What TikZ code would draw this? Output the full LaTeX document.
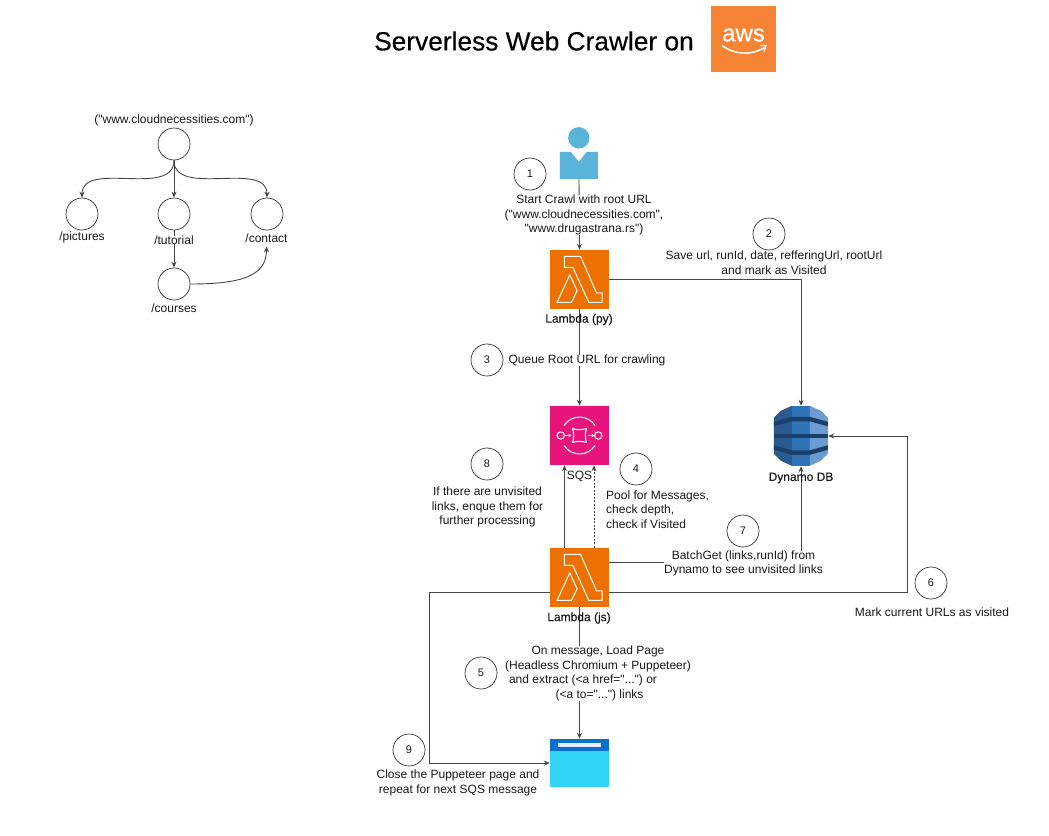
\documentclass[tikz,border=0pt]{standalone}
\usepackage{fontspec}
\setmainfont{Liberation Sans}[Ligatures=TeXOff]
\newfontfamily\darkfont[FakeBold=0.3]{Liberation Sans}
\usetikzlibrary{arrows.meta}
\definecolor{lambdaorange}{HTML}{ED7100}
\definecolor{sqspink}{HTML}{E7157B}
\definecolor{awsorange}{HTML}{F58534}
\definecolor{userblue}{HTML}{5AB4DA}
\definecolor{dynleft}{HTML}{2A5A8E}
\definecolor{dynmid}{HTML}{2E73B8}
\definecolor{dynright}{HTML}{6B9BD0}
\definecolor{dynband}{HTML}{1A3F6B}
\definecolor{pagehead}{HTML}{0B6FCC}
\definecolor{pagebody}{HTML}{32D4F5}
\begin{document}
\begin{tikzpicture}[x=1pt, y=-1pt, >={Stealth[length=6pt,width=5pt]},
    every node/.style={font=\fontsize{12}{14.5}\selectfont, text=black!90},
    conn/.style={draw=black!72, line width=0.9pt},
    stepcircle/.style={circle, draw=black!80, line width=0.7pt, minimum size=32pt, inner sep=0pt, font=\fontsize{11}{13}\selectfont},
    treecircle/.style={circle, draw=black!80, line width=0.7pt, minimum size=32pt, inner sep=0pt},
    icon/.style={minimum width=59pt, minimum height=59pt, inner sep=0pt},
    caption/.style={align=center, fill=white, inner sep=0pt},
    glyph/.style={draw=white, line width=1pt, line join=miter}]
    \useasboundingbox (0,0) rectangle (1049,835);

    % title
    \node[font=\fontsize{26.3}{30}\selectfont\darkfont, text=black] (title) at (534,41) {Serverless Web Crawler on};
    \node[fill=awsorange, minimum width=65pt, minimum height=66pt, inner sep=0pt] (aws) at (743.5,39) {};
    \node[font=\fontsize{24}{26}\selectfont\darkfont, text=white] (awstext) at (743.5,35) {aws};
    \draw[white, line width=1.5pt] (722,45.5) .. controls (736,55.5) and (752,55.5) .. (765.5,47);
    \draw[white, line width=1.3pt] (760,45.5) -- (766,45.5) -- (764,51.5);

    % site tree
    \node[treecircle] (root) at (174,144) {};
    \node[treecircle] (pictures) at (82,214) {};
    \node[treecircle] (tutorial) at (174,214) {};
    \node[treecircle] (contact) at (267,214) {};
    \node[treecircle] (courses) at (174,284) {};
    \node (contactname) at (266.5,238.5) {/contact};

    \draw[conn,->] (root.south) .. controls +(0,38) and +(0,-38) .. (pictures.north);
    \draw[conn,->] (root.south) -- (tutorial.north);
    \draw[conn,->] (root.south) .. controls +(0,38) and +(0,-38) .. (contact.north);
    \draw[conn,->] (tutorial.south) -- (courses.north);
    \draw[conn,->] (courses.east) .. controls +(50,0) and +(0,30) .. (contactname.south);

    \node[caption] (rootname) at (174,120) {("www.cloudnecessities.com")};
    \node[caption] (picturesname) at (82,237) {/pictures};
    \node[caption] (tutorialname) at (174,240) {/tutorial};
    \node[caption] (coursesname) at (174,308) {/courses};

    % services
    \node[minimum width=38pt, minimum height=52pt, inner sep=0pt] (user) at (579,153) {};
    \node[icon, fill=lambdaorange] (lambdapy) at (579.5,279.5) {};
    \node[icon, fill=sqspink] (sqs) at (579.5,435.5) {};
    \node[icon, fill=lambdaorange] (lambdajs) at (579.5,577.5) {};
    \node[minimum width=54pt, minimum height=60pt, inner sep=0pt] (dynamo) at (801,436) {};
    \node[minimum width=59pt, minimum height=48pt, inner sep=0pt, fill=pagebody, rounded corners=1pt] (browser) at (579.5,763) {};
    \coordinate (markbend) at (907,436);

    % user
    \fill[userblue, shift={(user.north west)}] (19,11) circle (10.7);
    \fill[userblue, shift={(user.north west)}] (0,25) -- (11,25) -- (19,35) -- (27,25) -- (38,25) -- (38,52) -- (0,52) -- cycle;

    % lambdas
    \foreach \n in {lambdapy,lambdajs} {
        \draw[glyph, shift={(\n.north west)}] (14.5,6.5) -- (30.7,6.5) -- (46.7,43) -- (52.3,43) -- (52.3,52.5) -- (39,52.5) -- (23,17.5) -- (14.5,17.5) -- cycle;
        \draw[glyph, shift={(\n.north west)}] (7.3,52.5) -- (20,25) -- (27.3,41) -- (21.7,52.5) -- cycle;
    }

    % sqs
    \begin{scope}[shift={(sqs.center)}]
        \draw[glyph] (-15.5,-10) arc[start angle=213, end angle=327, radius=18.5];
        \draw[glyph] (-15.5,10) arc[start angle=147, end angle=33, radius=18.5];
        \draw[glyph] (-18.8,0) circle (3.7);
        \draw[glyph] (18.8,0) circle (3.7);
        \draw[glyph] (-7,-7) .. controls (-3,-5.5) and (3,-5.5) .. (7,-7) .. controls (5.5,-3) and (5.5,3) .. (7,7) .. controls (3,5.5) and (-3,5.5) .. (-7,7) .. controls (-5.5,3) and (-5.5,-3) .. (-7,-7) -- cycle;
        \draw[white, line width=1pt, -{Stealth[length=3pt,width=3.5pt]}] (-15,0) -- (-8,0);
        \draw[white, line width=1pt, -{Stealth[length=3pt,width=3.5pt]}] (8,0) -- (15,0);
    \end{scope}

    % dynamo
    \begin{scope}[shift={(dynamo.north west)}]
        \fill[dynleft] (0,12) -- (7,5) -- (18,0) -- (18,60) -- (7,55) -- (0,48) -- cycle;
        \fill[dynmid] (18,0) rectangle (36,60);
        \fill[dynright] (36,0) -- (47,5) -- (54,12) -- (54,48) -- (47,55) -- (36,60) -- cycle;
        \fill[dynband] (0,16) -- (18,11) -- (36,11) -- (54,16) -- (54,20.5) -- (36,15.5) -- (18,15.5) -- (0,20.5) -- cycle;
        \fill[dynband] (0,28) rectangle (54,32);
        \fill[dynband] (0,39.5) -- (18,44.5) -- (36,44.5) -- (54,39.5) -- (54,44) -- (36,49) -- (18,49) -- (0,44) -- cycle;
    \end{scope}

    % page
    \fill[pagehead, shift={(browser.north west)}] (0,0) rectangle (59,12.5);
    \fill[white, opacity=0.9, shift={(browser.north west)}] (8,4) rectangle (51.5,8.5);

    % connectors
    \draw[conn,->] (user.south) -- (lambdapy.north);
    \draw[conn,->] (lambdapy.east) -| (dynamo.north);
    \draw[conn,->] (lambdapy.south) -- (sqs.north);
    \draw[conn,->] ([xshift=-15pt]lambdajs.north) -- ([xshift=-15pt]sqs.south);
    \draw[conn,dash pattern=on 2pt off 1.5pt,->] ([xshift=14.5pt]lambdajs.north) -- ([xshift=14.5pt]sqs.south);
    \draw[conn,->] ([yshift=15pt]lambdajs.east) -| (dynamo.south);
    \draw[conn,->] ([yshift=-15pt]lambdajs.east) -| (markbend) -- (dynamo.east);
    \draw[conn,->] (lambdajs.south) -- (browser.north);
    \draw[conn,->] ([yshift=-15pt]lambdajs.west) -- ++(-120,0) |- (browser.west);

    % captions
    \node[caption, fill=none] (lambdapyname) at (579,319.5) {\darkfont Lambda (py)};
    \node[caption, fill=none] (sqsname) at (579.5,476.5) {SQS};
    \node[caption, fill=none] (lambdajsname) at (579,618) {\darkfont Lambda (js)};
    \node[caption, fill=none] (dynamoname) at (801,478) {\darkfont Dynamo DB};

    \node[caption] (startlabel) at (584,215) {Start Crawl with root URL\\("www.cloudnecessities.com",\\"www.drugastrana.rs")};
    \node[caption] (savelabel) at (774,262.5) {Save url, runId, date, refferingUrl, rootUrl\\and mark as Visited};
    \node[caption] (queuelabel) at (587,360.5) {Queue Root URL for crawling};
    \node[caption, align=left, anchor=west] (poollabel) at (606,509.5) {Pool for Messages,\\check depth,\\check if Visited};
    \node[caption] (unvisitedlabel) at (487.5,507) {If there are unvisited\\links, enque them for\\further processing};
    \node[caption] (batchlabel) at (743.5,563.5) {BatchGet (links,runId) from\\Dynamo to see unvisited links};
    \node[caption] (marklabel) at (932,612) {Mark current URLs as visited};
    \node[caption] (loadlabel) at (598,673.5) {On message, Load Page\\(Headless Chromium + Puppeteer)\\and extract (<a href="...") or\hspace*{30pt}\mbox{}\\\hspace*{3pt}(<a to="...") links};
    \node[caption] (closelabel) at (458,783) {Close the Puppeteer page and\\repeat for next SQS message};

    % step numbers
    \node[stepcircle] (stepone) at (530,174) {1};
    \node[stepcircle] (steptwo) at (769,234) {2};
    \node[stepcircle] (stepthree) at (487,360) {3};
    \node[stepcircle] (stepfour) at (636,469) {4};
    \node[stepcircle] (stepfive) at (481,673) {5};
    \node[stepcircle] (stepsix) at (931,583) {6};
    \node[stepcircle] (stepseven) at (743,531) {7};
    \node[stepcircle] (stepeight) at (487,464) {8};
    \node[stepcircle] (stepnine) at (409,750) {9};
\end{tikzpicture}
\end{document}
